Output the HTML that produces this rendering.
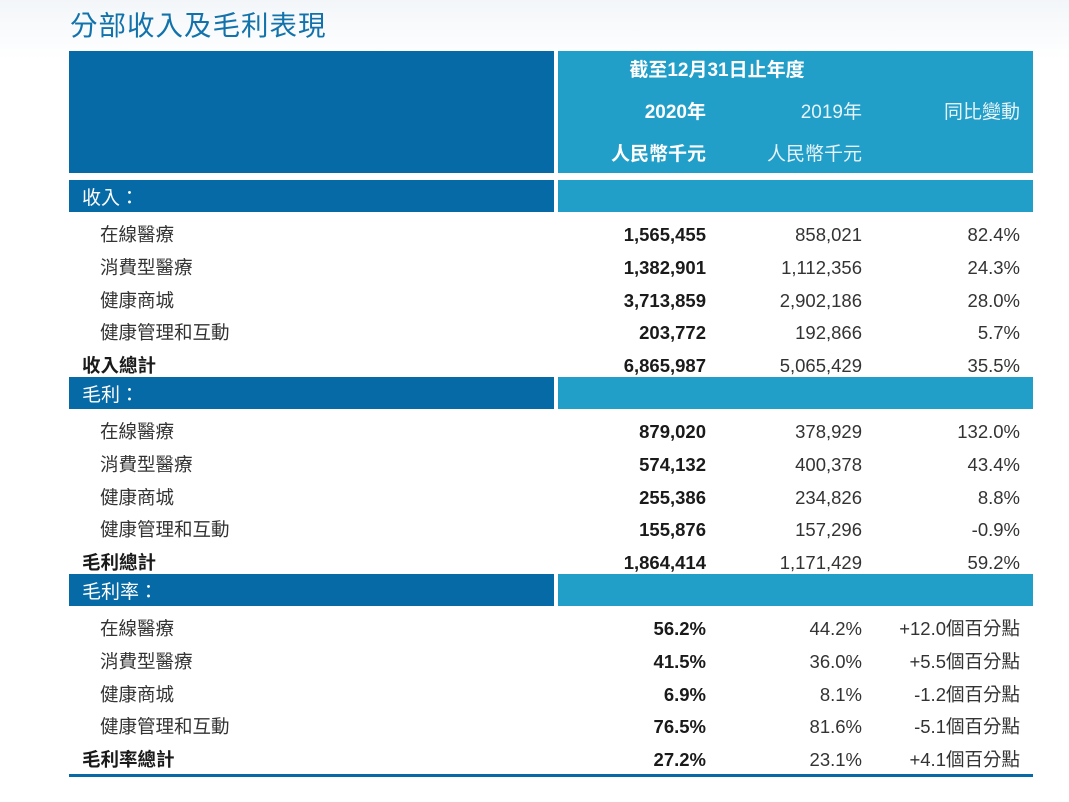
<!DOCTYPE html>
<html><head><meta charset="utf-8"><style>
body{margin:0;width:1069px;height:802px;position:relative;overflow:hidden;background:linear-gradient(#f3f6f9 0px,#fff 60px);font-family:"Liberation Sans","Noto Sans CJK TC",sans-serif;}
.a{position:absolute;white-space:nowrap;}
.dk{background:#066aa7;}
.lt{background:#219fc9;}
.t{font-size:18.5px;line-height:22px;color:#333;}
.r{text-align:right;}
.b{font-weight:bold;color:#1a1a1a;}
.w{color:#fff;font-size:19px;line-height:22px;}
</style></head><body>
<div class="a" style="left:70px;top:8px;font-size:27.5px;line-height:36px;color:#1272ab;letter-spacing:1px">分部收入及毛利表現</div>
<div class="a dk" style="left:69px;top:51px;width:485px;height:122px"></div>
<div class="a lt" style="left:558px;top:51px;width:475px;height:122px"></div>
<div class="a w b" style="left:558px;width:318px;text-align:center;top:60px;color:#fff">截至12月31日止年度</div>
<div class="a w b r" style="right:363px;top:102px;color:#fff">2020年</div>
<div class="a w r" style="right:207px;top:102px;color:#e6f3fa">2019年</div>
<div class="a w r" style="right:49px;top:102px;color:#e6f3fa">同比變動</div>
<div class="a w b r" style="right:363px;top:144px;color:#fff">人民幣千元</div>
<div class="a w r" style="right:207px;top:144px;color:#e6f3fa">人民幣千元</div>
<div class="a" style="left:69px;top:774px;width:964px;height:3px;background:#066aa7"></div>
<script>
const sections=["收入：","毛利：","毛利率："];
const sectionTops=[180,377,574];
const items=["在線醫療","消費型醫療","健康商城","健康管理和互動"];
const totals=["收入總計","毛利總計","毛利率總計"];
const v2020=[["1,565,455","1,382,901","3,713,859","203,772","6,865,987"],["879,020","574,132","255,386","155,876","1,864,414"],["56.2%","41.5%","6.9%","76.5%","27.2%"]];
const v2019=[["858,021","1,112,356","2,902,186","192,866","5,065,429"],["378,929","400,378","234,826","157,296","1,171,429"],["44.2%","36.0%","8.1%","81.6%","23.1%"]];
const vchg=[["82.4%","24.3%","28.0%","5.7%","35.5%"],["132.0%","43.4%","8.8%","-0.9%","59.2%"],["+12.0個百分點","+5.5個百分點","-1.2個百分點","-5.1個百分點","+4.1個百分點"]];
function mk(cls,style,text){const d=document.createElement('div');d.className='a '+cls;d.style.cssText=style;if(text)d.textContent=text;document.body.appendChild(d);return d;}
sections.forEach((s,i)=>{
 const top=sectionTops[i];
 let e=mk('dk','left:69px;top:'+top+'px;width:485px;height:32px');
 
 
 e=mk('lt','left:558px;top:'+top+'px;width:475px;height:32px');
 
 
 e=mk('w','left:82px;top:'+(top+8)+'px',s);
 
 
 for(let j=0;j<5;j++){
  const y=top+55+j*32.8-11;
  const isTot=j==4;
  e=mk('t'+(isTot?' b':''),'left:'+(isTot?82:100)+'px;top:'+y+'px',isTot?totals[i]:items[j]);
  
  
  e=mk('t b r','right:363px;top:'+y+'px',v2020[i][j]);
  
  
  e=mk('t r','right:207px;top:'+y+'px',v2019[i][j]);
  
  
  e=mk('t r','right:49px;top:'+y+'px',vchg[i][j]);
  
  
 }
});
</script>
</body></html>
